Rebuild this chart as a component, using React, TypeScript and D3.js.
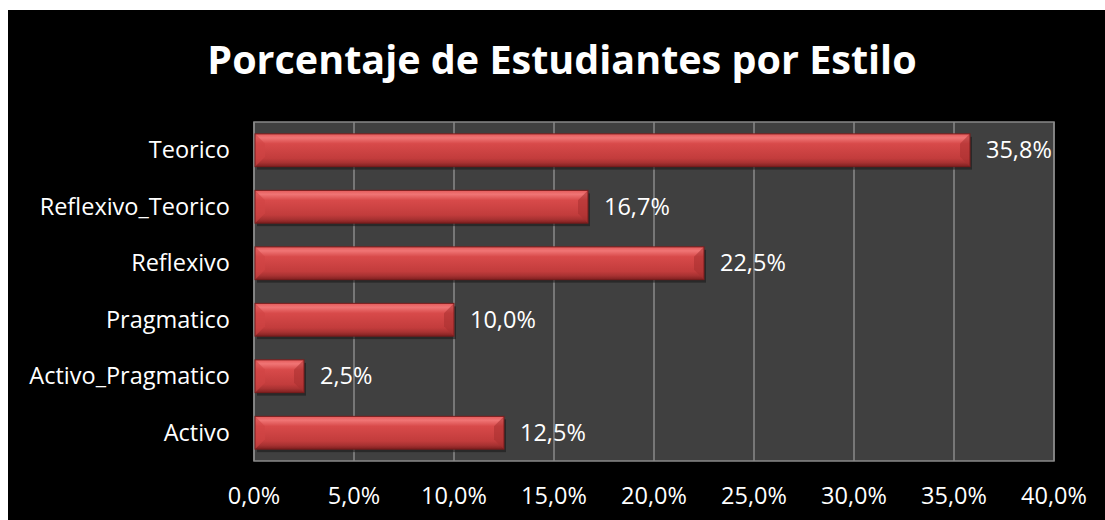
import React from "react";
import * as d3 from "d3";

const categories = ["Teorico", "Reflexivo_Teorico", "Reflexivo", "Pragmatico", "Activo_Pragmatico", "Activo"];
const values = [35.8, 16.7, 22.5, 10.0, 2.5, 12.5];
const ticks = [0, 5, 10, 15, 20, 25, 30, 35, 40];

const W = 1105;
const H = 520;
const margin = { top: 122, right: 51, bottom: 59, left: 254 };
const font = "'Open Sans', sans-serif";

const fmt = (v: number) => v.toFixed(1).replace(".", ",") + "%";

export default function App() {
  const x = d3.scaleLinear().domain([0, 40]).range([margin.left, W - margin.right]);
  const y = d3
    .scaleBand()
    .domain(categories)
    .range([margin.top, H - margin.bottom])
    .paddingInner(0.42)
    .paddingOuter(0.21);
  const bh = y.bandwidth();
  const bev = Math.min(10, bh / 3);

  return (
    <svg width={W} height={H} style={{ position: "absolute", left: 0, top: 0 }}>
      <defs>
        <linearGradient id="barGrad" x1="0" y1="0" x2="0" y2="1">
          <stop offset="0" stopColor="#e45a5a" />
          <stop offset="0.12" stopColor="#f07575" />
          <stop offset="0.3" stopColor="#d84a4a" />
          <stop offset="0.75" stopColor="#c23c3c" />
          <stop offset="0.88" stopColor="#a83232" />
          <stop offset="1" stopColor="#7e2020" />
        </linearGradient>
      </defs>
      <rect x={8} y={10} width={W - 8} height={H - 10} fill="#000" />
      <text
        x={562}
        y={74}
        textAnchor="middle"
        fill="#fff"
        fontFamily={font}
        fontWeight="bold"
        fontSize={39.5}
      >
        Porcentaje de Estudiantes por Estilo
      </text>
      <rect
        x={margin.left}
        y={margin.top}
        width={x(40) - x(0)}
        height={H - margin.bottom - margin.top}
        fill="#404040"
        stroke="#888"
        strokeWidth={1.5}
      />
      {ticks.map((t) => (
        <g key={t}>
          <line
            x1={x(t)}
            x2={x(t)}
            y1={margin.top}
            y2={H - margin.bottom}
            stroke="#8a8a8a"
            strokeWidth={1.5}
          />
          <text
            x={x(t)}
            y={504}
            textAnchor="middle"
            fill="#fff"
            fontFamily={font}
            fontSize={23.5}
          >
            {fmt(t)}
          </text>
        </g>
      ))}
      {categories.map((c, i) => {
        const y0 = y(c)!;
        const x0 = x(0) + 1;
        const x1 = x(values[i]);
        return (
          <g key={c}>
            <rect x={x0 + 2} y={y0 + 3} width={x1 - x0} height={bh} fill="#1a1a1a" opacity={0.6} />
            <rect x={x0} y={y0} width={x1 - x0} height={bh} fill="url(#barGrad)" />
            <polygon
              points={`${x0},${y0} ${x0 + bev},${y0 + bev} ${x0 + bev},${y0 + bh - bev} ${x0},${y0 + bh}`}
              fill="#d04545"
              opacity={0.6}
            />
            <polygon
              points={`${x1},${y0} ${x1 - bev},${y0 + bev} ${x1 - bev},${y0 + bh - bev} ${x1},${y0 + bh}`}
              fill="#a83030"
              opacity={0.55}
            />
            <rect x={x0} y={y0} width={x1 - x0} height={bh} fill="none" stroke="#7a1c1c" strokeWidth={1} />
            <text
              x={230}
              y={y0 + bh / 2}
              dy="0.35em"
              textAnchor="end"
              fill="#fff"
              fontFamily={font}
              fontSize={23.5}
            >
              {c}
            </text>
            <text
              x={x1 + 16}
              y={y0 + bh / 2}
              dy="0.35em"
              fill="#fff"
              fontFamily={font}
              fontSize={23.5}
            >
              {fmt(values[i])}
            </text>
          </g>
        );
      })}
    </svg>
  );
}
